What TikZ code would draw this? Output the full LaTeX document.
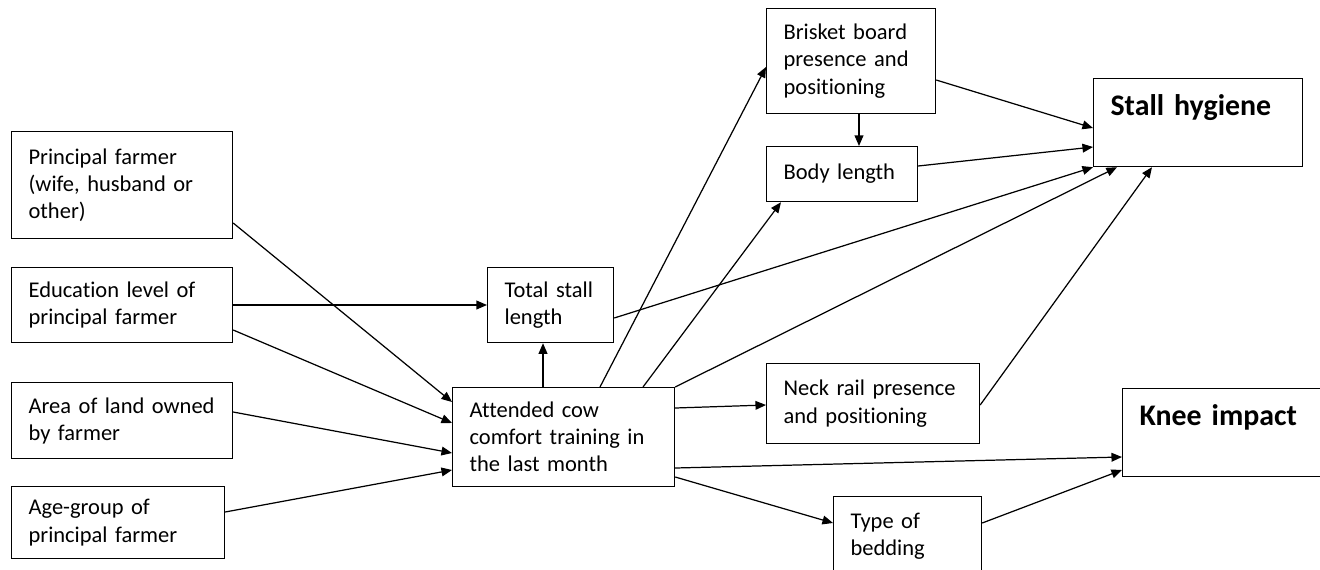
\documentclass[tikz,border=0pt]{standalone}
\usepackage{fontspec}
\setmainfont{Carlito}[Ligatures=NoCommon]
\usepackage{tikz}
\usetikzlibrary{arrows.meta}

\begin{document}
\begin{tikzpicture}[x=0.02cm, y=-0.02cm,
    box/.style={rectangle, draw, line width=0.7pt, anchor=north west, inner xsep=0.34cm, inner ysep=0pt, align=left, font=\fontsize{12.8}{15.4}\selectfont},
    outcome/.style={box, font=\fontsize{17}{20}\selectfont\bfseries},
    arrow/.style={-{Triangle[length=6pt,width=5pt]}, line width=0.7pt}
]
    \path[use as bounding box, clip] (0,0) rectangle (1320,569);

    % farmer side
    \node[box, text width=3.74cm, minimum height=2.14cm] (prin) at (11,131) {Principal farmer\\(wife, husband or\\other)};
    \node[box, text width=3.74cm, minimum height=1.50cm] (edu) at (11,267) {Education level of\\principal farmer};
    \node[box, text width=3.74cm, minimum height=1.52cm] (land) at (11,382) {Area of land owned\\by farmer};
    \node[box, text width=3.58cm, minimum height=1.44cm] (age) at (11,486) {Age-group of\\principal farmer};

    % middle
    \node[box, text width=1.84cm, minimum height=1.50cm] (total) at (487,267) {Total stall\\length};
    \node[box, text width=3.76cm, minimum height=1.98cm] (train) at (452,387) {Attended cow\\comfort training in\\the last month};

    % stall features
    \node[box, text width=2.70cm, minimum height=2.10cm] (brisk) at (766,8) {Brisket board\\presence and\\positioning};
    \node[box, text width=2.34cm, minimum height=1.10cm] (body) at (766,146) {Body length};
    \node[box, text width=3.58cm, minimum height=1.60cm] (neck) at (766,363) {Neck rail presence\\and positioning};
    \node[box, text width=2.28cm, minimum height=1.58cm] (bed) at (833,496) {Type of\\bedding};

    % outcomes
    \node[outcome, text width=3.50cm, minimum height=1.76cm] (hyg) at (1093,78) {Stall hygiene\\\mbox{}};
    \node[outcome, text width=3.48cm, minimum height=1.76cm] (knee) at (1122,388) {Knee impact\\\mbox{}};

    \draw[arrow] (prin.east |- 0,223) -- (train.west |- 0,402);
    \draw[arrow] (edu.east |- 0,305) -- (total.west |- 0,305);
    \draw[arrow] (edu.east |- 0,330) -- (train.west |- 0,423);
    \draw[arrow] (land.east |- 0,412) -- (train.west |- 0,453);
    \draw[arrow] (age.east |- 0,512) -- (train.west |- 0,470);

    \draw[arrow] (train.north -| 543,0) -- (total.south -| 543,0);
    \draw[arrow] (train.north -| 600,0) -- (brisk.west |- 0,67);
    \draw[arrow] (train.north -| 643,0) -- (body.south -| 781,0);
    \draw[arrow] (train.north east) -- (hyg.south -| 1117,0);
    \draw[arrow] (train.east |- 0,408) -- (neck.west |- 0,405);
    \draw[arrow] (train.east |- 0,468) -- (knee.west |- 0,457);
    \draw[arrow] (train.east |- 0,477) -- (bed.west |- 0,523);

    \draw[arrow] (total.east |- 0,318) -- (hyg.south west);
    \draw[arrow] (brisk.south -| 859,0) -- (body.north -| 859,0);
    \draw[arrow] (brisk.east |- 0,80) -- (hyg.west |- 0,128);
    \draw[arrow] (body.east |- 0,166) -- (hyg.west |- 0,147);
    \draw[arrow] (neck.east |- 0,405) -- (hyg.south -| 1152,0);
    \draw[arrow] (bed.east |- 0,523) -- (knee.west |- 0,470);
\end{tikzpicture}
\end{document}
